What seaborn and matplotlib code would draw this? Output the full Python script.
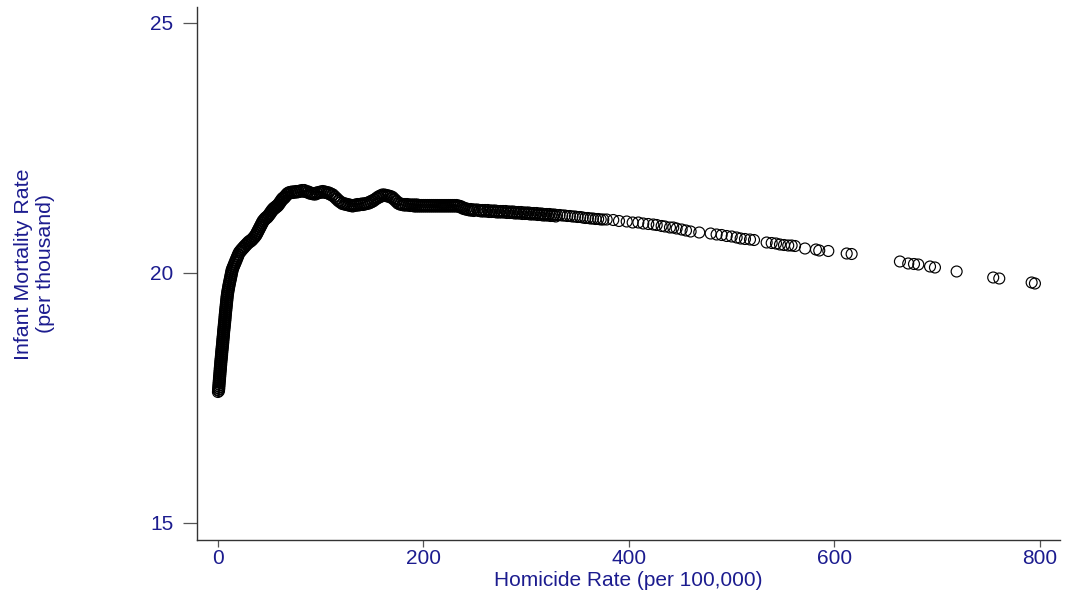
import matplotlib
matplotlib.use("Agg")
import matplotlib.pyplot as plt
import seaborn as sns
import pandas as pd

# ---- data (homicide rate per 100,000 ; infant mortality per 1,000) ----
# steep rise near zero homicide (centre of the band)
rise_mortality = [
    17.62, 17.66, 17.70, 17.74, 17.78, 17.82, 17.86, 17.90, 17.94, 17.98,
    18.02, 18.06, 18.10, 18.14, 18.18, 18.22, 18.26, 18.30, 18.34, 18.38,
    18.42, 18.46, 18.50, 18.54, 18.58, 18.62, 18.66, 18.70, 18.74, 18.78,
    18.82, 18.86, 18.90, 18.94, 18.98, 19.02, 19.06, 19.10, 19.14, 19.18,
    19.22, 19.26, 19.30, 19.34, 19.38, 19.42, 19.46, 19.50, 19.54, 19.58,
    19.62, 19.66, 19.70, 19.74, 19.78, 19.82, 19.86, 19.90, 19.94, 19.98,
    20.02, 20.06, 20.10, 20.14, 20.18, 20.22, 20.26, 20.30, 20.34, 20.38,
]
rise_homicide = [
    0.0, 0.1, 0.3, 0.4, 0.6, 0.7, 0.9, 1.0, 1.2, 1.4,
    1.5, 1.7, 1.8, 2.0, 2.2, 2.3, 2.5, 2.7, 2.9, 3.1,
    3.2, 3.4, 3.6, 3.8, 4.0, 4.2, 4.3, 4.5, 4.7, 4.9,
    5.0, 5.2, 5.4, 5.6, 5.8, 6.0, 6.2, 6.4, 6.5, 6.7,
    6.9, 7.1, 7.3, 7.5, 7.7, 7.9, 8.1, 8.3, 8.5, 8.8,
    9.1, 9.4, 9.8, 10.1, 10.5, 10.9, 11.3, 11.7, 12.1, 12.5,
    12.9, 13.3, 14.0, 14.8, 15.6, 16.4, 17.2, 18.0, 18.8, 19.6,
]
# steep rise, observations on the right-hand edge of the band
rise_edge_mortality = [
    17.64, 17.68, 17.72, 17.76, 17.80, 17.84, 17.88, 17.92, 17.96, 18.00,
    18.04, 18.08, 18.12, 18.16, 18.20, 18.24, 18.28, 18.32, 18.36, 18.40,
    18.44, 18.48, 18.52, 18.56, 18.60, 18.64, 18.68, 18.72, 18.76, 18.80,
    18.84, 18.88, 18.92, 18.96, 19.00, 19.04, 19.08, 19.12, 19.16, 19.20,
    19.24, 19.28, 19.32, 19.36, 19.40, 19.44, 19.48, 19.52, 19.56, 19.60,
    19.64, 19.68, 19.72, 19.76, 19.80, 19.84, 19.88, 19.92, 19.96, 20.00,
    20.04, 20.08, 20.12, 20.16, 20.20, 20.24, 20.28, 20.32, 20.36,
]
rise_edge_homicide = [
    1.0, 1.2, 1.3, 1.5, 1.6, 1.8, 2.0, 2.1, 2.3, 2.4,
    2.6, 2.8, 2.9, 3.1, 3.2, 3.4, 3.6, 3.8, 4.0, 4.1,
    4.3, 4.5, 4.7, 4.9, 5.1, 5.2, 5.4, 5.6, 5.8, 5.9,
    6.1, 6.3, 6.5, 6.7, 6.9, 7.1, 7.3, 7.4, 7.6, 7.8,
    8.0, 8.2, 8.4, 8.6, 8.8, 9.0, 9.2, 9.4, 9.6, 9.9,
    10.2, 10.6, 10.9, 11.3, 11.7, 12.1, 12.5, 12.9, 13.3, 13.7,
    14.1, 14.6, 15.4, 16.2, 17.0, 17.8, 18.6, 19.4, 20.2,
]
# bend towards the plateau
bend_homicide = [
    20.6, 21.8, 23.0, 24.3, 25.6, 27.0, 28.4, 29.8, 31.2, 32.6,
    34.0, 35.2, 36.4, 37.4, 38.4, 39.4, 40.4, 41.4, 42.4, 43.4,
    44.6, 45.8, 47.0, 48.2, 49.4, 50.4, 51.4, 52.4, 53.6, 54.8,
    56.0, 57.2, 58.4, 59.4, 60.4, 61.4, 62.4, 63.6, 64.8, 66.0,
    67.2, 68.6,
]
bend_mortality = [
    20.42, 20.45, 20.48, 20.51, 20.54, 20.57, 20.60, 20.63, 20.65, 20.67,
    20.70, 20.73, 20.76, 20.80, 20.84, 20.88, 20.92, 20.96, 21.00, 21.04,
    21.07, 21.10, 21.12, 21.14, 21.17, 21.20, 21.23, 21.26, 21.29, 21.31,
    21.33, 21.35, 21.37, 21.40, 21.43, 21.46, 21.49, 21.51, 21.53, 21.56,
    21.59, 21.61,
]
bend_edge_homicide = [
    21.9, 23.1, 24.4, 25.7, 27.0, 28.4, 29.8, 31.2, 32.6, 34.0,
    35.3, 36.5, 37.6, 38.6, 39.6, 40.6, 41.6, 42.6, 43.6, 44.7,
    45.9, 47.1, 48.3, 49.5, 50.6, 51.6, 52.6, 53.7, 54.9, 56.1,
    57.3, 58.5, 59.6, 60.6, 61.6, 62.6, 63.7, 64.9, 66.1, 67.3,
    68.6,
]
bend_edge_mortality = [
    20.42, 20.45, 20.48, 20.51, 20.54, 20.57, 20.60, 20.62, 20.64, 20.67,
    20.70, 20.73, 20.76, 20.80, 20.84, 20.88, 20.92, 20.96, 21.00, 21.04,
    21.07, 21.09, 21.11, 21.14, 21.17, 21.20, 21.23, 21.26, 21.28, 21.30,
    21.32, 21.34, 21.37, 21.40, 21.43, 21.46, 21.48, 21.50, 21.53, 21.56,
    21.58,
]
# plateau
plateau_homicide = [
    70, 72, 74, 76, 78, 80, 82, 84, 86, 88,
    90, 92, 94, 96, 98, 100, 102, 104, 106, 108,
    110, 112, 114, 116, 118, 120, 122, 124, 126, 128,
    130, 132, 134, 136, 138, 140, 142, 144, 146, 148,
    150, 152, 154, 156, 158, 160, 162, 164, 166, 168,
    170, 172, 174, 176, 178, 180, 182, 184, 186, 188,
    190, 192, 194, 196, 198, 200, 202, 204, 206, 208,
    210, 212, 214, 216, 218, 220, 222, 224, 226, 228,
    230, 232, 234, 236, 238, 240, 242, 244, 246, 248,
    250,
]
plateau_mortality = [
    21.62, 21.63, 21.63, 21.64, 21.64, 21.65, 21.66, 21.66, 21.64, 21.63,
    21.61, 21.60, 21.59, 21.61, 21.62, 21.63, 21.64, 21.63, 21.62, 21.61,
    21.59, 21.57, 21.53, 21.49, 21.45, 21.42, 21.40, 21.39, 21.38, 21.37,
    21.36, 21.36, 21.37, 21.38, 21.38, 21.39, 21.39, 21.40, 21.41, 21.43,
    21.45, 21.47, 21.50, 21.53, 21.55, 21.57, 21.57, 21.56, 21.55, 21.54,
    21.52, 21.48, 21.44, 21.40, 21.39, 21.38, 21.38, 21.38, 21.37, 21.37,
    21.37, 21.37, 21.37, 21.36, 21.36, 21.36, 21.36, 21.36, 21.36, 21.36,
    21.36, 21.36, 21.36, 21.36, 21.36, 21.36, 21.36, 21.36, 21.36, 21.36,
    21.36, 21.36, 21.35, 21.34, 21.32, 21.30, 21.29, 21.28, 21.28, 21.27,
    21.27,
]
plateau_edge_homicide = [
    71, 73, 75, 77, 79, 81, 83, 85, 87, 89,
    91, 93, 95, 97, 99, 101, 103, 105, 107, 109,
    111, 113, 115, 117, 119, 121, 123, 125, 127, 129,
    131, 133, 135, 137, 139, 141, 143, 145, 147, 149,
    151, 153, 155, 157, 159, 161, 163, 165, 167, 169,
    171, 173, 175, 177, 179, 181, 183, 185, 187, 189,
    191, 193, 195, 197, 199, 201, 203, 205, 207, 209,
    211, 213, 215, 217, 219, 221, 223, 225, 227, 229,
    231, 233, 235, 237, 239, 241, 243, 245, 247, 249,
]
plateau_edge_mortality = [
    21.60, 21.60, 21.61, 21.61, 21.62, 21.63, 21.63, 21.62, 21.61, 21.59,
    21.58, 21.57, 21.57, 21.59, 21.60, 21.61, 21.61, 21.60, 21.59, 21.57,
    21.55, 21.52, 21.48, 21.44, 21.41, 21.38, 21.37, 21.36, 21.35, 21.34,
    21.33, 21.34, 21.35, 21.35, 21.36, 21.36, 21.37, 21.38, 21.39, 21.41,
    21.43, 21.46, 21.49, 21.51, 21.53, 21.54, 21.54, 21.53, 21.52, 21.50,
    21.47, 21.43, 21.39, 21.37, 21.36, 21.35, 21.35, 21.35, 21.34, 21.34,
    21.33, 21.33, 21.33, 21.33, 21.33, 21.33, 21.33, 21.33, 21.33, 21.33,
    21.33, 21.33, 21.33, 21.33, 21.33, 21.33, 21.33, 21.33, 21.33, 21.33,
    21.33, 21.33, 21.32, 21.30, 21.28, 21.27, 21.26, 21.25, 21.25, 21.24,
]
# slow decline, still dense
decline_homicide = [
    252.5, 255.0, 257.5, 260.0, 262.5, 265.0, 267.5, 270.0, 272.5, 275.0,
    277.5, 280.0, 282.5, 285.0, 287.5, 290.0, 292.5, 295.0, 297.5, 300.0,
    302.5, 305.0, 307.5, 310.0, 312.5, 315.0, 317.5, 320.0, 322.5, 325.0,
    327.5, 330.0, 332.5, 335.0, 337.5, 340.0, 342.5, 345.0, 347.5, 350.0,
    352.5, 355.0, 357.5, 360.0, 362.5, 365.0, 367.5, 370.0, 372.5, 375.0,
]
decline_mortality = [
    21.27, 21.26, 21.26, 21.26, 21.26, 21.25, 21.25, 21.25, 21.24, 21.24,
    21.24, 21.24, 21.23, 21.23, 21.23, 21.22, 21.22, 21.22, 21.21, 21.21,
    21.21, 21.20, 21.20, 21.20, 21.19, 21.19, 21.18, 21.18, 21.18, 21.17,
    21.17, 21.16, 21.16, 21.15, 21.15, 21.14, 21.14, 21.13, 21.13, 21.12,
    21.12, 21.11, 21.10, 21.10, 21.09, 21.09, 21.08, 21.08, 21.07, 21.07,
]
decline_edge_homicide = [
    253.75, 256.25, 258.75, 261.25, 263.75, 266.25, 268.75, 271.25, 273.75, 276.25,
    278.75, 281.25, 283.75, 286.25, 288.75, 291.25, 293.75, 296.25, 298.75, 301.25,
    303.75, 306.25, 308.75, 311.25, 313.75, 316.25, 318.75, 321.25, 323.75, 326.25,
    328.75,
]
decline_edge_mortality = [
    21.24, 21.23, 21.23, 21.23, 21.22, 21.22, 21.22, 21.21, 21.21, 21.21,
    21.21, 21.20, 21.20, 21.20, 21.19, 21.19, 21.19, 21.18, 21.18, 21.18,
    21.17, 21.17, 21.17, 21.16, 21.16, 21.15, 21.15, 21.15, 21.14, 21.14,
    21.13,
]
# individual, separable observations
sparse_homicide = [
    378.3, 384.7, 390.3, 397.8, 403.6, 409.1, 413.9, 418.8, 423.7, 427.0,
    431.8, 435.0, 439.9, 443.1, 446.4, 451.3, 455.5, 460.0, 468.4, 479.5,
    485.3, 490.2, 495.1, 500.0, 504.8, 508.7, 512.9, 517.8, 521.7, 534.0,
    538.9, 543.1, 547.0, 550.9, 555.0, 558.3, 561.6, 571.3, 582.0, 585.2,
    594.0, 611.9, 616.7, 663.7, 671.8, 677.4, 681.6, 693.0, 697.8, 718.9,
    754.5, 760.4, 791.9, 795.1,
]
sparse_mortality = [
    21.07, 21.06, 21.04, 21.03, 21.01, 21.01, 20.99, 20.98, 20.97, 20.96,
    20.94, 20.93, 20.91, 20.91, 20.89, 20.87, 20.85, 20.83, 20.81, 20.79,
    20.77, 20.76, 20.74, 20.73, 20.71, 20.69, 20.68, 20.67, 20.66, 20.61,
    20.60, 20.59, 20.57, 20.56, 20.55, 20.55, 20.54, 20.49, 20.47, 20.45,
    20.44, 20.39, 20.38, 20.23, 20.19, 20.18, 20.17, 20.13, 20.11, 20.03,
    19.91, 19.89, 19.81, 19.79,
]
x_ticks = [0, 200, 400, 600, 800]
y_ticks = [15, 20, 25]
x_title = "Homicide Rate (per 100,000)"
y_title = "Infant Mortality Rate\n(per thousand)"

df = pd.DataFrame({
    "homicide": rise_homicide + rise_edge_homicide + bend_homicide + bend_edge_homicide
                + plateau_homicide + plateau_edge_homicide + decline_homicide
                + decline_edge_homicide + sparse_homicide,
    "mortality": rise_mortality + rise_edge_mortality + bend_mortality + bend_edge_mortality
                 + plateau_mortality + plateau_edge_mortality + decline_mortality
                 + decline_edge_mortality + sparse_mortality,
})

sns.set_theme(style="white")
plt.rcParams["font.family"] = ["Liberation Sans", "DejaVu Sans"]

TEXT = "#1c1c8f"
FS = 15
fig = plt.figure(figsize=(10.69, 5.98), dpi=100)
ax = fig.add_axes([197 / 1069, 1 - 540 / 598, 863 / 1069, 533 / 598])

sns.scatterplot(data=df, x="homicide", y="mortality", ax=ax, marker="o", s=62,
                linewidth=0.85, legend=False)
for coll in ax.collections:
    coll.set_facecolor("none")
    coll.set_edgecolor("black")
    coll.set_linewidth(0.85)

ax.set_xlim(-20.4, 819.5)
ax.set_ylim(14.66, 25.32)
ax.set_xticks(x_ticks)
ax.set_yticks(y_ticks)
ax.set_xticklabels([str(v) for v in x_ticks])
ax.set_yticklabels([str(v) for v in y_ticks])

for side in ["top", "right"]:
    ax.spines[side].set_visible(False)
for side in ["left", "bottom"]:
    ax.spines[side].set_color("#333333")
    ax.spines[side].set_linewidth(1.0)

ax.tick_params(axis="y", direction="out", length=10, width=0.9, color="#555555",
               labelsize=FS, labelcolor=TEXT, pad=7, left=True)
ax.tick_params(axis="x", direction="out", length=5, width=0.9, color="#555555",
               labelsize=FS, labelcolor=TEXT, pad=1.5, bottom=True)

ax.set_xlabel(x_title, fontsize=FS, color=TEXT)
ax.set_ylabel(y_title, fontsize=15.4, color=TEXT, linespacing=1.22)
ax.xaxis.set_label_coords(0.5, -0.058)
ax.yaxis.set_label_coords(-0.1645, 0.518)
ax.grid(False)

fig.savefig("out.png", dpi=100, facecolor="white")
